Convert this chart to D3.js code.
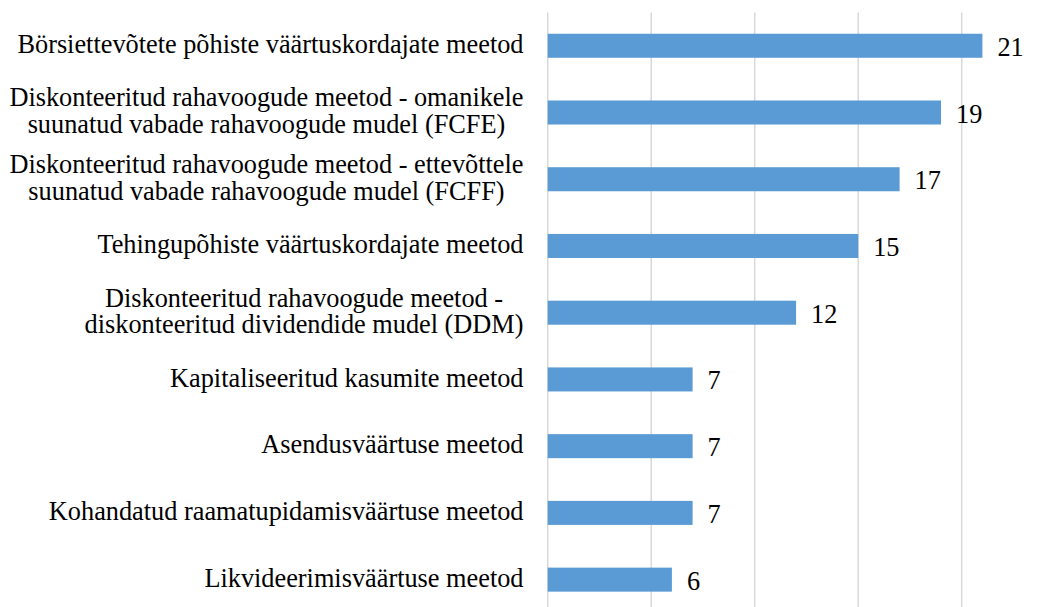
<!DOCTYPE html>
<html>
<head>
<meta charset="utf-8">
<script src="https://cdn.jsdelivr.net/npm/d3@7"></script>
<style>
    body { margin: 0; background: #fff; }
    text { font-family: "Liberation Serif", "Times New Roman", serif; fill: #000; }
</style>
</head>
<body>
<svg id="chart" width="1049" height="607"></svg>
<script>
// categories, top to bottom; each entry is the wrapped lines of the label
const categories = [
    ["Börsiettevõtete põhiste väärtuskordajate meetod"],
    ["Diskonteeritud rahavoogude meetod - omanikele", "suunatud vabade rahavoogude mudel (FCFE)"],
    ["Diskonteeritud rahavoogude meetod - ettevõttele", "suunatud vabade rahavoogude mudel (FCFF)"],
    ["Tehingupõhiste väärtuskordajate meetod"],
    ["Diskonteeritud rahavoogude meetod -", "diskonteeritud dividendide mudel (DDM)"],
    ["Kapitaliseeritud kasumite meetod"],
    ["Asendusväärtuse meetod"],
    ["Kohandatud raamatupidamisväärtuse meetod"],
    ["Likvideerimisväärtuse meetod"]
];
const values = [21, 19, 17, 15, 12, 7, 7, 7, 6];
const gridTicks = [0, 5, 10, 15, 20];

class BarChart {
    constructor(svg) {
        this.svg = svg;
        this.plot = { "left": 547.7, "right": 961.7, "top": 12.4, "bottom": 613 };
        this.fontSize = 26.3;
        this.lineHeight = 26.7;
        this.createScales();
    }

    createScales() {
        this.x = d3.scaleLinear()
            .domain([0, 20])
            .range([this.plot.left, this.plot.right]);

        this.y = d3.scaleBand()
            .domain(d3.range(categories.length))
            .range([this.plot.top, this.plot.bottom])
            .paddingInner(0.64)
            .paddingOuter(0.32);
    }

    draw() {
        let grid = this.svg.append("g");
        grid.selectAll("line")
            .data(gridTicks)
            .enter().append("line")
            .attr("x1", d => this.x(d))
            .attr("x2", d => this.x(d))
            .attr("y1", this.plot.top)
            .attr("y2", this.plot.bottom)
            .attr("stroke", "#d9d9d9")
            .attr("stroke-width", 1.5);

        this.svg.append("g").selectAll("rect")
            .data(values)
            .enter().append("rect")
            .attr("x", this.x(0))
            .attr("y", (d, i) => this.y(i))
            .attr("width", d => this.x(d) - this.x(0))
            .attr("height", this.y.bandwidth())
            .attr("fill", "#5b9bd5");

        this.svg.append("g").selectAll("text")
            .data(values)
            .enter().append("text")
            .attr("x", d => this.x(d) + 15)
            .attr("y", (d, i) => this.y(i) + this.y.bandwidth() / 2 + 10)
            .style("font-size", this.fontSize + "px")
            .text(d => d);

        // category labels: block right-aligned, lines centered inside it
        let labelRight = 523.5;
        let labels = this.svg.append("g").selectAll("g")
            .data(categories)
            .enter().append("g");

        labels.each((lines, i, nodes) => {
            let g = d3.select(nodes[i]);
            let cy = this.y(i) + this.y.bandwidth() / 2 + 7.3;
            let top = cy - (lines.length - 1) * this.lineHeight / 2;
            let texts = g.selectAll("text")
                .data(lines)
                .enter().append("text")
                .attr("y", (d, j) => top + j * this.lineHeight)
                .attr("text-anchor", "middle")
                .style("font-size", this.fontSize + "px")
                .text(d => d);
            let w = d3.max(texts.nodes(), n => n.getComputedTextLength());
            texts.attr("x", labelRight - w / 2);
        });
    }
}

new BarChart(d3.select("#chart")).draw();
</script>
</body>
</html>
